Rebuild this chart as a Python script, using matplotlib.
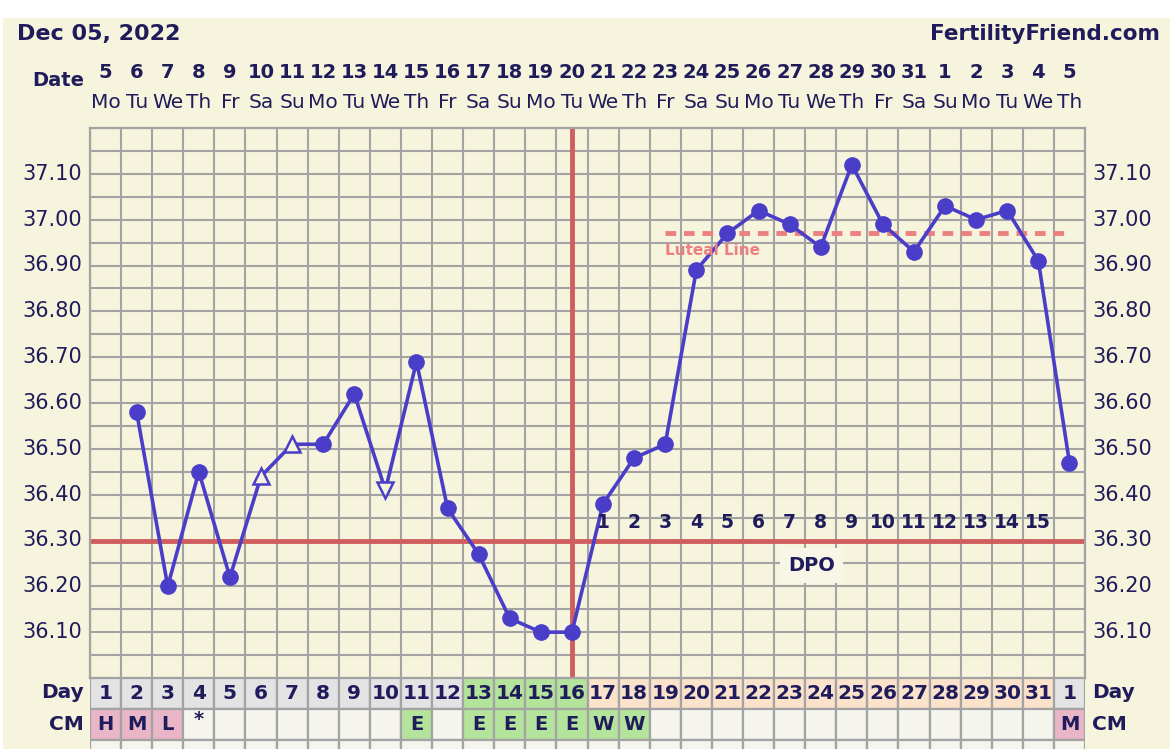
import numpy as np
import matplotlib
matplotlib.use('Agg')
import matplotlib.pyplot as plt
from matplotlib.patches import Rectangle
import matplotlib.transforms as mtransforms

# Данные графика
cycle_days = list(range(1, 32)) + [1]
dates = list(range(5, 32)) + list(range(1, 6))
weekdays = (['Mo', 'Tu', 'We', 'Th', 'Fr', 'Sa', 'Su'] * 5)[:32]
temps = [np.nan, 36.58, 36.20, 36.45, 36.22, 36.44, 36.51, 36.51, 36.62, 36.41,
         36.69, 36.37, 36.27, 36.13, 36.10, 36.10, 36.38, 36.48, 36.51, 36.89,
         36.97, 37.02, 36.99, 36.94, 37.12, 36.99, 36.93, 37.03, 37.00, 37.02,
         36.91, 36.47]
# o - обычная точка, ^ / v - открытые треугольники
markers = ['o'] * 32
markers[5] = '^'
markers[6] = '^'
markers[9] = 'v'
coverline = 36.30
ovulation_day = 16
luteal_level = 36.97
luteal_start, luteal_end = 19, 32
dpo_labels = [str(i) for i in range(1, 16)]
cm_values = ['H', 'M', 'L', '*', '', '', '', '', '', '', 'E', '', 'E', 'E', 'E', 'E',
             'W', 'W'] + [''] * 13 + ['M']
day_phase = ['gray'] * 12 + ['green'] * 4 + ['peach'] * 15 + ['gray']

navy = '#201c5c'
cream = '#f6f4dc'
grid_c = '#a3a3a3'
line_c = '#4a3ec9'
red_c = '#cf5f5f'
luteal_c = '#ec8080'
phase_colors = {'gray': '#e3e3e3', 'green': '#b4e39b', 'peach': '#fbe3cb'}
cm_colors = {'H': '#e8b6c6', 'M': '#e8b6c6', 'L': '#e8b6c6', 'E': '#b4e39b', 'W': '#b4e39b'}

plt.rcParams['font.family'] = 'DejaVu Sans'

W, H = 1170, 749
fig = plt.figure(figsize=(W / 100, H / 100), dpi=100, facecolor='white')


def fx(px):
    return px / W


def fy(py):
    return 1 - py / H


fig.patches.append(Rectangle((fx(3), 0), 1, fy(18), transform=fig.transFigure,
                             facecolor=cream, edgecolor='none', zorder=-10))

fig.text(fx(17), fy(34), 'Dec 05, 2022', fontsize=16, fontweight='bold', color=navy,
         ha='left', va='center')
fig.text(fx(1160), fy(34), 'FertilityFriend.com', fontsize=15.5, fontweight='bold',
         color=navy, ha='right', va='center')
fig.text(fx(84), fy(80), 'Date', fontsize=14, fontweight='bold', color=navy,
         ha='right', va='center')

# Основная область графика
ax = fig.add_axes([fx(90), fy(678), 995 / W, 550 / H])
ax.set_facecolor(cream)
ax.set_xlim(0, 32)
ax.set_ylim(36.0, 37.2)
ax.set_xticks(np.arange(0, 33))
ax.set_yticks(np.arange(36.0, 37.2001, 0.05))
ax.grid(True, color=grid_c, linewidth=1.5)
ax.tick_params(length=0, labelleft=False, labelbottom=False)
for s in ax.spines.values():
    s.set_color(grid_c)
    s.set_linewidth(1.6)
ax.set_axisbelow(True)

x = np.arange(32) + 0.5
t = np.array(temps)
ax.plot(x, t, color=line_c, linewidth=2.6, zorder=3)
for xi, ti, m in zip(x, t, markers):
    if np.isnan(ti):
        continue
    if m == 'o':
        ax.plot(xi, ti, 'o', color=line_c, markersize=11, zorder=4)
    else:
        ax.plot(xi, ti, m, markerfacecolor=cream, markeredgecolor=line_c,
                markeredgewidth=1.8, markersize=12, zorder=4)

ax.axhline(coverline, color=red_c, linewidth=3.5, zorder=2)
ax.axvline(ovulation_day - 0.5, color=red_c, linewidth=3.5, zorder=2)
ax.plot([luteal_start - 0.5, luteal_end - 0.5], [luteal_level, luteal_level],
        color=luteal_c, linewidth=3.5, dashes=(2.2, 1.6), zorder=2)
ax.text(luteal_start - 0.5, luteal_level - 0.037, 'Luteal Line', color=luteal_c,
        fontsize=11, fontweight='bold', ha='left', va='center', zorder=3)

for i, lab in enumerate(dpo_labels):
    ax.text(ovulation_day + i + 0.5, 36.34, lab, color=navy, fontsize=13.5,
            fontweight='bold', ha='center', va='center', zorder=5)
ax.text(23.2, 36.245, 'DPO', color=navy, fontsize=14, fontweight='bold',
        ha='center', va='center', zorder=5,
        bbox=dict(boxstyle='square,pad=0.4', facecolor='#f8f6e6', edgecolor='none'))

# Подписи температур слева и справа
for v in np.arange(36.1, 37.11, 0.1):
    ax.text(-0.25, v, f'{v:.2f}', transform=ax.transData, color=navy, fontsize=15,
            ha='right', va='center')
    ax.text(32.25, v, f'{v:.2f}', transform=ax.transData, color=navy, fontsize=15,
            ha='left', va='center')

# Даты и дни недели
tr = mtransforms.blended_transform_factory(ax.transData, fig.transFigure)
for i in range(32):
    ax.text(i + 0.5, fy(73), str(dates[i]), transform=tr, color=navy, fontsize=14,
            fontweight='bold', ha='center', va='center')
    ax.text(i + 0.5, fy(103), weekdays[i], transform=tr, color=navy, fontsize=14.5,
            ha='center', va='center')

# Таблица под графиком
tab = fig.add_axes([fx(90), fy(678 + 93), 995 / W, 93 / H])
tab.set_xlim(0, 32)
tab.set_ylim(3, 0)
tab.axis('off')
for i in range(32):
    tab.add_patch(Rectangle((i, 0), 1, 1, facecolor=phase_colors[day_phase[i]],
                            edgecolor=grid_c, linewidth=1.6))
    tab.text(i + 0.5, 0.5, str(cycle_days[i]), color=navy, fontsize=14.5,
             fontweight='bold', ha='center', va='center')
    cm = cm_values[i]
    tab.add_patch(Rectangle((i, 1), 1, 1, facecolor=cm_colors.get(cm, '#f5f5ee'),
                            edgecolor=grid_c, linewidth=1.6))
    if cm:
        tab.text(i + 0.5, 1.5 if cm != '*' else 1.35, cm, color=navy, fontsize=14,
                 fontweight='bold', ha='center', va='center')
    tab.add_patch(Rectangle((i, 2), 1, 1, facecolor='#f5f5ee', edgecolor=grid_c,
                            linewidth=1.6))

for lab, yy in [('Day', 692), ('CM', 724)]:
    fig.text(fx(84), fy(yy), lab, color=navy, fontsize=14.5, fontweight='bold',
             ha='right', va='center')
    fig.text(fx(1092), fy(yy), lab, color=navy, fontsize=14.5, fontweight='bold',
             ha='left', va='center')

fig.savefig('out.png', dpi=100, facecolor=fig.get_facecolor())
